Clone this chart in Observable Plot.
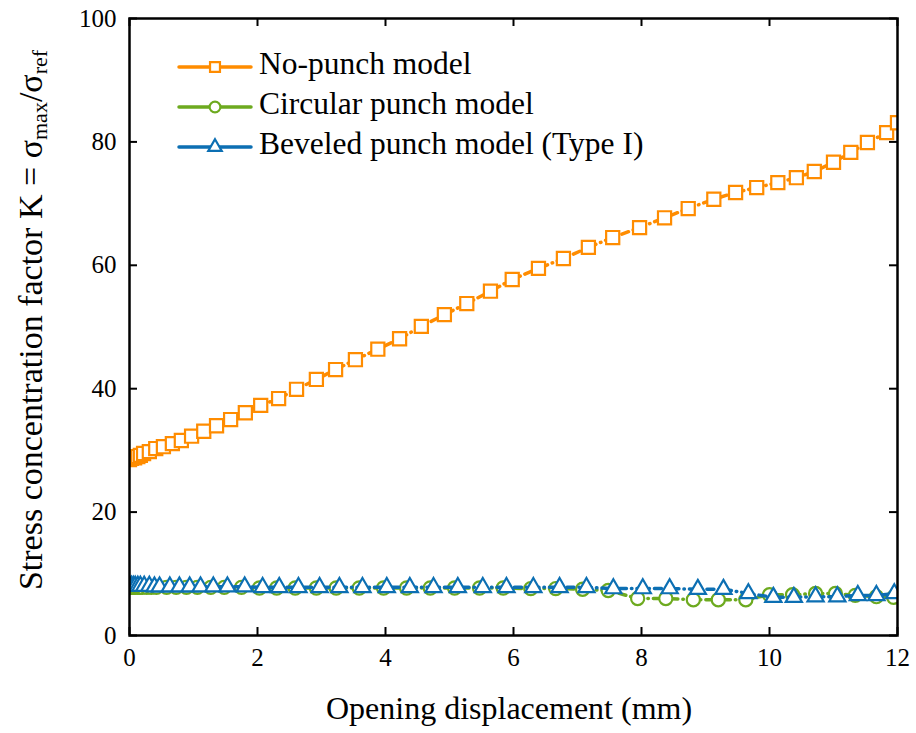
<!DOCTYPE html>
<html><head><meta charset="utf-8">
<script src="https://cdn.jsdelivr.net/npm/d3@7"></script>
<script src="https://cdn.jsdelivr.net/npm/@observablehq/plot@0.6"></script>
<style>body{margin:0;background:#fff}</style>
</head><body><div id="chart"></div>
<script>
// ---- data ----
const seriesNames = ["No-punch model", "Circular punch model", "Beveled punch model (Type I)"];
const seriesColors = ["#FF8C00", "#6DAA1F", "#0C6FB3"];
const seriesSymbols = ["square", "circle", "triangle"];

const noPunchX = [0, 0.03, 0.08, 0.13, 0.17, 0.22, 0.31, 0.41, 0.53, 0.67, 0.81, 0.97, 1.16, 1.36, 1.58, 1.81, 2.05, 2.33, 2.61, 2.92, 3.22, 3.53, 3.88, 4.22, 4.56, 4.92, 5.27, 5.64, 5.98, 6.39, 6.78, 7.17, 7.55, 7.97, 8.36, 8.73, 9.13, 9.47, 9.8, 10.13, 10.42, 10.7, 11.0, 11.27, 11.53, 11.83, 12.0];
const noPunchK = [28.5, 28.7, 28.8, 29.0, 29.2, 29.5, 29.8, 30.3, 30.6, 31.1, 31.6, 32.3, 33.1, 34.0, 35.0, 36.1, 37.3, 38.4, 39.9, 41.5, 43.1, 44.7, 46.4, 48.1, 50.1, 52.0, 53.8, 55.8, 57.7, 59.5, 61.1, 62.9, 64.5, 66.1, 67.7, 69.2, 70.7, 71.8, 72.6, 73.4, 74.2, 75.2, 76.7, 78.3, 79.9, 81.5, 83.1];

const circularX = [0, 0.03, 0.06, 0.09, 0.13, 0.16, 0.2, 0.27, 0.34, 0.42, 0.58, 0.73, 0.89, 1.06, 1.27, 1.48, 1.75, 2.03, 2.3, 2.59, 2.92, 3.23, 3.59, 3.97, 4.33, 4.7, 5.08, 5.47, 5.84, 6.27, 6.66, 7.08, 7.48, 7.94, 8.38, 8.81, 9.2, 9.63, 10.0, 10.36, 10.72, 11.03, 11.34, 11.67, 11.94];
const circularK = [7.8, 7.8, 7.8, 7.8, 7.8, 7.8, 7.8, 7.8, 7.8, 7.8, 7.8, 7.8, 7.8, 7.8, 7.8, 7.8, 7.8, 7.7, 7.7, 7.7, 7.7, 7.7, 7.7, 7.7, 7.7, 7.7, 7.7, 7.7, 7.7, 7.6, 7.6, 7.5, 7.3, 6.0, 6.0, 5.8, 5.8, 5.8, 6.6, 6.6, 6.8, 6.8, 6.5, 6.3, 6.2];

const beveledX = [0, 0.03, 0.06, 0.09, 0.13, 0.17, 0.23, 0.31, 0.39, 0.47, 0.63, 0.78, 0.94, 1.11, 1.31, 1.53, 1.8, 2.08, 2.34, 2.64, 2.97, 3.28, 3.64, 4.02, 4.38, 4.75, 5.13, 5.52, 5.89, 6.31, 6.72, 7.14, 7.56, 8.02, 8.44, 8.88, 9.28, 9.67, 10.06, 10.38, 10.72, 11.06, 11.38, 11.67, 11.95];
const beveledK = [8.0, 8.0, 8.0, 8.0, 8.0, 8.0, 8.0, 8.0, 7.9, 7.9, 7.9, 7.9, 7.9, 7.9, 7.9, 7.9, 7.9, 7.8, 7.8, 7.8, 7.8, 7.8, 7.8, 7.8, 7.8, 7.8, 7.8, 7.8, 7.8, 7.8, 7.8, 7.8, 7.6, 7.6, 7.6, 7.5, 7.5, 6.8, 6.2, 6.2, 6.3, 6.3, 6.5, 6.5, 6.8];

const xTicks = [0, 2, 4, 6, 8, 10, 12];
const yTicks = [0, 20, 40, 60, 80, 100];
const xLabel = "Opening displacement (mm)";

// ---- build tables ----
const toRows = (xs, ys) => xs.map((x, i) => ({x, k: ys[i]}));
const series = [
  toRows(noPunchX, noPunchK),
  toRows(circularX, circularK),
  toRows(beveledX, beveledK)
];

const W = 916, H = 733;
const mL = 129, mR = 19, mT = 18, mB = 98;
const innerW = W - mL - mR, innerH = H - mT - mB;
const tickLen = 8;
const font = "'Liberation Serif', 'Times New Roman', serif";
const rSize = [7.4, 6.6, 6.0];

const lineMark = (i) => Plot.line(series[i], {
  x: "x", y: "k", stroke: seriesColors[i], strokeWidth: 3.5,
  strokeDasharray: "7,5,0.5,5", strokeLinecap: "round", clip: true
});
const dotMark = (i) => Plot.dot(series[i], {
  x: "x", y: "k", symbol: seriesSymbols[i], r: rSize[i], stroke: seriesColors[i],
  strokeWidth: 2.2, fill: "white", clip: true
});

const chart = Plot.plot({
  width: W, height: H,
  marginLeft: mL, marginRight: mR, marginTop: mT, marginBottom: mB,
  style: {fontFamily: font, background: "white", color: "black"},
  x: {domain: [0, 12]},
  y: {domain: [0, 100]},
  marks: [
    Plot.axisX(xTicks, {tickSize: 0, tickPadding: 13, fontSize: 25, label: null}),
    Plot.axisY(yTicks, {tickSize: 0, tickPadding: 13, fontSize: 25, label: null}),
    // inward ticks on all four sides
    Plot.tickX(xTicks, {x: d => d, insetTop: innerH - tickLen, stroke: "black", strokeWidth: 2}),
    Plot.tickX(xTicks, {x: d => d, insetBottom: innerH - tickLen, stroke: "black", strokeWidth: 2}),
    Plot.tickY(yTicks, {y: d => d, insetRight: innerW - tickLen, stroke: "black", strokeWidth: 2}),
    Plot.tickY(yTicks, {y: d => d, insetLeft: innerW - tickLen, stroke: "black", strokeWidth: 2}),
    lineMark(1), dotMark(1),
    lineMark(2), dotMark(2),
    lineMark(0), dotMark(0),
    Plot.frame({stroke: "black", strokeWidth: 2.5})
  ]
});

const svg = d3.select(chart);

// x axis label
svg.append("text")
  .attr("x", mL + innerW / 2 - 4).attr("y", 712)
  .attr("text-anchor", "middle").attr("dominant-baseline", "middle")
  .style("font-family", font).style("font-size", "32px").attr("fill", "black")
  .text(xLabel);

// y axis label with subscripts
const yl = svg.append("text")
  .attr("transform", `translate(34,320) rotate(-90)`)
  .attr("text-anchor", "middle").attr("dominant-baseline", "middle")
  .style("font-family", font).style("font-size", "34px").attr("fill", "black");
yl.append("tspan").text("Stress concentration factor K = σ");
yl.append("tspan").attr("dy", "8").style("font-size", "22px").text("max");
yl.append("tspan").attr("dy", "-8").text("/σ");
yl.append("tspan").attr("dy", "8").style("font-size", "22px").text("ref");

// legend
const legRows = [67, 107, 147];
const symPath = {
  square: d3.symbol(d3.symbolSquare, Math.PI * 5.6 * 5.6)(),
  circle: d3.symbol(d3.symbolCircle, Math.PI * 5.4 * 5.4)(),
  triangle: d3.symbol(d3.symbolTriangle, Math.PI * 5.0 * 5.0)()
};
const leg = svg.append("g");
seriesNames.forEach((name, i) => {
  const y = legRows[i];
  leg.append("line").attr("x1", 179).attr("x2", 251).attr("y1", y).attr("y2", y)
    .attr("stroke", seriesColors[i]).attr("stroke-width", 3.5).attr("stroke-linecap", "round");
  leg.append("path").attr("d", symPath[seriesSymbols[i]])
    .attr("transform", `translate(215,${y})`)
    .attr("fill", "white").attr("stroke", seriesColors[i]).attr("stroke-width", 2.2);
  leg.append("text").attr("x", 259).attr("y", y).attr("dominant-baseline", "middle")
    .attr("text-anchor", "start")
    .style("font-family", font).style("font-size", "31.5px").attr("fill", "black")
    .text(name);
});

document.getElementById("chart").appendChild(chart);
</script>
</body></html>
